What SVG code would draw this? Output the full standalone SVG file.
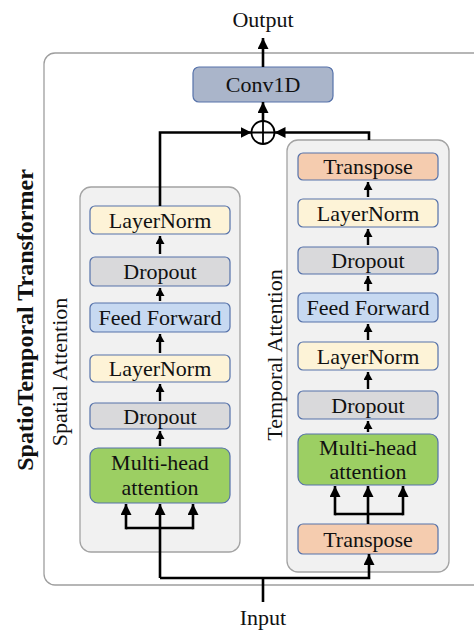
<svg xmlns="http://www.w3.org/2000/svg" width="474" height="631" viewBox="0 0 474 631">
<style>
text{font-family:"Liberation Serif","Times New Roman",serif;fill:#111;}
.t{font-size:22px;text-anchor:middle;}
.lbl{font-size:22px;text-anchor:middle;}
.title{font-size:24px;font-weight:bold;text-anchor:middle;}
.node{stroke:#5672aa;stroke-width:1.2;}
.ln{fill:#fdf3d7;}
.dr{fill:#d9d9db;}
.ff{fill:#c7d9f1;}
.mh{fill:#9ccf63;}
.tp{fill:#f5ccaf;}
.cv{fill:#aab5ca;}
.cont{fill:#f1f1f1;stroke:#a3a3a3;stroke-width:1.3;}
.c{fill:none;stroke:#000;stroke-width:2.6;}
.s{fill:none;stroke:#000;stroke-width:2.4;}
</style>
<defs>
<marker id="ah" viewBox="0 0 10 10" refX="10" refY="5" markerWidth="11" markerHeight="11" markerUnits="userSpaceOnUse" orient="auto"><path d="M0,0 L10,5 L0,10 z" fill="#000"/></marker>
<marker id="as" viewBox="0 0 10 10" refX="10" refY="5" markerWidth="8" markerHeight="9" markerUnits="userSpaceOnUse" orient="auto" preserveAspectRatio="none"><path d="M0,0 L10,5 L0,10 z" fill="#000"/></marker>
</defs>

<g id="frame">
<rect x="44" y="53" width="460" height="532" rx="11" fill="#fff" stroke="#9e9e9e" stroke-width="1.3"/>
<text class="title" transform="translate(33,320) rotate(-90)">SpatioTemporal Transformer</text>
</g>

<g id="output-label"><text class="t" x="263" y="27">Output</text></g>
<g id="input-label"><text class="t" x="263" y="625">Input</text></g>

<g id="conv1d">
<rect class="node cv" x="193" y="67" width="140" height="35" rx="6"/>
<text class="t" x="263" y="92">Conv1D</text>
</g>

<g id="add">
<circle cx="263" cy="132.5" r="11.5" fill="#fff" stroke="#000" stroke-width="1.8"/>
<path d="M251.5,132.5 H274.5 M263,121 V144" stroke="#000" stroke-width="1.8"/>
</g>

<g id="spatial">
<rect class="cont" x="80" y="187" width="160" height="365" rx="11"/>
<text class="lbl" transform="translate(67,372) rotate(-90)">Spatial Attention</text>
<g id="s-layernorm2"><rect class="node ln" x="90" y="206" width="140" height="28" rx="5"/><text class="t" x="160" y="227.5">LayerNorm</text></g>
<g id="s-dropout2"><rect class="node dr" x="90" y="257" width="140" height="29" rx="5"/><text class="t" x="160" y="278.5">Dropout</text></g>
<g id="s-feedforward"><rect class="node ff" x="90" y="303" width="140" height="29" rx="5"/><text class="t" x="160" y="324.5">Feed Forward</text></g>
<g id="s-layernorm1"><rect class="node ln" x="90" y="355" width="140" height="27" rx="5"/><text class="t" x="160" y="375.5">LayerNorm</text></g>
<g id="s-dropout1"><rect class="node dr" x="90" y="403" width="140" height="26" rx="5"/><text class="t" x="160" y="423.5">Dropout</text></g>
<g id="s-mha"><rect class="node mh" x="90" y="448" width="140" height="55" rx="8"/><text class="t" x="160" y="470">Multi-head</text><text class="t" x="160" y="495">attention</text></g>
</g>

<g id="temporal">
<rect class="cont" x="287" y="140" width="162" height="432" rx="11"/>
<text class="lbl" transform="translate(282,355) rotate(-90)">Temporal Attention</text>
<g id="t-transpose2"><rect class="node tp" x="298" y="153" width="140" height="27" rx="5"/><text class="t" x="368" y="173.5">Transpose</text></g>
<g id="t-layernorm2"><rect class="node ln" x="298" y="199" width="140" height="28" rx="5"/><text class="t" x="368" y="220.5">LayerNorm</text></g>
<g id="t-dropout2"><rect class="node dr" x="298" y="247" width="140" height="27" rx="5"/><text class="t" x="368" y="267.5">Dropout</text></g>
<g id="t-feedforward"><rect class="node ff" x="298" y="293" width="140" height="29" rx="5"/><text class="t" x="368" y="314.5">Feed Forward</text></g>
<g id="t-layernorm1"><rect class="node ln" x="298" y="342" width="140" height="28" rx="5"/><text class="t" x="368" y="363.5">LayerNorm</text></g>
<g id="t-dropout1"><rect class="node dr" x="298" y="391" width="140" height="28" rx="5"/><text class="t" x="368" y="412.5">Dropout</text></g>
<g id="t-mha"><rect class="node mh" x="298" y="434" width="140" height="51" rx="8"/><text class="t" x="368" y="455">Multi-head</text><text class="t" x="368" y="479">attention</text></g>
<g id="t-transpose1"><rect class="node tp" x="298" y="524" width="140" height="30" rx="5"/><text class="t" x="368" y="546.5">Transpose</text></g>
</g>

<g id="connectors">
<path class="c" d="M263,67 V38" marker-end="url(#ah)"/>
<path class="c" d="M263,121 V102" marker-end="url(#ah)"/>
<path class="c" d="M160,206 V132.5 H251.5" marker-end="url(#ah)"/>
<path class="c" d="M369,140 V132.5 H274.5" marker-end="url(#ah)"/>
<path class="c" d="M263,602 V578"/>
<path class="c" d="M160,578 H369 V554" marker-end="url(#ah)"/>
<path class="c" d="M160,578 V504" marker-end="url(#ah)"/>
<path class="c" d="M126,528 H193"/>
<path class="c" d="M126,529.3 V504" marker-end="url(#ah)"/>
<path class="c" d="M193,529.3 V504" marker-end="url(#ah)"/>
<path class="c" d="M368,524 V486" marker-end="url(#ah)"/>
<path class="c" d="M335,514 H403"/>
<path class="c" d="M335,515.3 V486" marker-end="url(#ah)"/>
<path class="c" d="M403,515.3 V486" marker-end="url(#ah)"/>
<path class="s" d="M160,254 V236" marker-end="url(#as)"/>
<path class="s" d="M160,301 V288" marker-end="url(#as)"/>
<path class="s" d="M160,353 V334" marker-end="url(#as)"/>
<path class="s" d="M160,401 V384" marker-end="url(#as)"/>
<path class="s" d="M160,446 V431" marker-end="url(#as)"/>
<path class="s" d="M368,197 V182" marker-end="url(#as)"/>
<path class="s" d="M368,245 V229" marker-end="url(#as)"/>
<path class="s" d="M368,291 V276" marker-end="url(#as)"/>
<path class="s" d="M368,340 V324" marker-end="url(#as)"/>
<path class="s" d="M368,389 V372" marker-end="url(#as)"/>
<path class="s" d="M368,432 V421" marker-end="url(#as)"/>
</g>
</svg>
